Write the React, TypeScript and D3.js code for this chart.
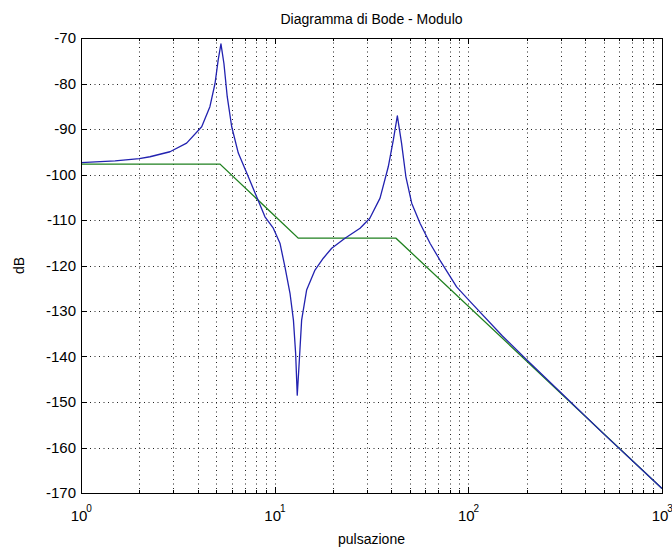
import React from "react";
import * as d3 from "d3";

const xTicksMajor = [1, 10, 100, 1000];
const xTickExp = ["0", "1", "2", "3"];
const yTicks = [-170, -160, -150, -140, -130, -120, -110, -100, -90, -80, -70];

const bluePuls = [1, 1.5, 2, 2.27, 2.88, 3.51, 4.2, 4.63, 4.92, 5.11, 5.28, 5.47, 5.69, 6.0, 6.49, 7.31, 8.07, 8.91, 9.84, 10.65, 11.3, 12.0, 12.5, 12.83, 13.08, 13.35, 13.78, 14.62, 16.15, 17.83, 19.7, 23.07, 27.6, 31.0, 35.0, 38.6, 41.0, 43.0, 45.2, 47.6, 51.0, 56.3, 63.4, 71.3, 87.0, 100, 150, 200, 300, 500, 1000];
const blueDb = [-97.4, -97.0, -96.5, -96.1, -95.0, -93.1, -89.5, -85.1, -80.0, -74.8, -71.3, -75.6, -82.9, -89.5, -95.3, -100.5, -104.9, -109.3, -111.8, -115.1, -120.3, -126.1, -132.0, -139.3, -148.5, -142.2, -132.0, -125.4, -121.0, -118.4, -116.2, -114.0, -111.8, -109.6, -105.2, -98.3, -92.4, -87.1, -93.1, -100.5, -106.3, -110.7, -115.1, -118.8, -124.7, -127.5, -135.5, -140.7, -147.9, -157.0, -169.0];

const greenPuls = [1, 5.22, 13.24, 42.3, 1000];
const greenDb = [-97.7, -97.7, -114.0, -114.0, -169.0];

const W = 672, H = 550;
const L = 81, R = 662, T = 38, B = 493;
const FONT = "'Liberation Sans', Arial, sans-serif";

export default function App() {
  const x = d3.scaleLog().domain([1, 1000]).range([L, R]);
  const y = d3.scaleLinear().domain([-170, -70]).range([B, T]);

  const minor: number[] = [];
  for (let d = 1; d < 1000; d *= 10) for (let k = 2; k <= 9; k++) minor.push(d * k);

  const line = d3.line<[number, number]>().x((p) => x(p[0])).y((p) => y(p[1]));
  const blue = line(bluePuls.map((w, i) => [w, blueDb[i]] as [number, number])) || "";
  const green = line(greenPuls.map((w, i) => [w, greenDb[i]] as [number, number])) || "";

  const gridStyle = { stroke: "#222", strokeWidth: 1, strokeDasharray: "1,3.5" };

  return (
    <svg width={W} height={H} style={{ position: "absolute", left: 0, top: 0, background: "#fff" }}>
      <rect x={0} y={0} width={W} height={H} fill="#fff" />
      {[...minor, ...xTicksMajor.slice(1, 3)].map((v, i) => (
        <line key={"gx" + i} x1={Math.round(x(v)) + 0.5} x2={Math.round(x(v)) + 0.5} y1={T} y2={B} {...gridStyle} />
      ))}
      {yTicks.slice(1, -1).map((v, i) => (
        <line key={"gy" + i} x1={L} x2={R} y1={Math.round(y(v)) + 0.5} y2={Math.round(y(v)) + 0.5} {...gridStyle} />
      ))}
      {yTicks.map((v, i) => (
        <g key={"ty" + i}>
          <line x1={L} x2={L + 6} y1={Math.round(y(v)) + 0.5} y2={Math.round(y(v)) + 0.5} stroke="#000" />
          <line x1={R - 6} x2={R} y1={Math.round(y(v)) + 0.5} y2={Math.round(y(v)) + 0.5} stroke="#000" />
          <text x={L - 5} y={y(v) + 5} textAnchor="end" fontFamily={FONT} fontSize={15} fill="#000">{v}</text>
        </g>
      ))}
      {xTicksMajor.map((v, i) => (
        <g key={"tx" + i}>
          <line x1={Math.round(x(v)) + 0.5} x2={Math.round(x(v)) + 0.5} y1={B} y2={B - 6} stroke="#000" />
          <line x1={Math.round(x(v)) + 0.5} x2={Math.round(x(v)) + 0.5} y1={T} y2={T + 6} stroke="#000" />
          <text x={x(v) - 2} y={B + 28} textAnchor="middle" fontFamily={FONT} fontSize={15} fill="#000">10</text>
          <text x={x(v) + 8} y={B + 19} textAnchor="middle" fontFamily={FONT} fontSize={10} fill="#000">{xTickExp[i]}</text>
        </g>
      ))}
      {minor.map((v, i) => (
        <g key={"mx" + i}>
          <line x1={Math.round(x(v)) + 0.5} x2={Math.round(x(v)) + 0.5} y1={B} y2={B - 3} stroke="#000" />
          <line x1={Math.round(x(v)) + 0.5} x2={Math.round(x(v)) + 0.5} y1={T} y2={T + 3} stroke="#000" />
        </g>
      ))}
      <path d={green} fill="none" stroke="#1f801f" strokeWidth={1.3} />
      <path d={blue} fill="none" stroke="#2222b0" strokeWidth={1.3} strokeLinejoin="round" />
      <rect x={L + 0.5} y={T + 0.5} width={R - L} height={B - T} fill="none" stroke="#000" strokeWidth={1} />
      <text x={(L + R) / 2} y={24} textAnchor="middle" fontFamily={FONT} fontSize={14} fill="#000">Diagramma di Bode - Modulo</text>
      <text x={(L + R) / 2} y={544} textAnchor="middle" fontFamily={FONT} fontSize={14} fill="#000">pulsazione</text>
      <text transform={`translate(24, ${(T + B) / 2}) rotate(-90)`} textAnchor="middle" fontFamily={FONT} fontSize={14} fill="#000">dB</text>
    </svg>
  );
}
